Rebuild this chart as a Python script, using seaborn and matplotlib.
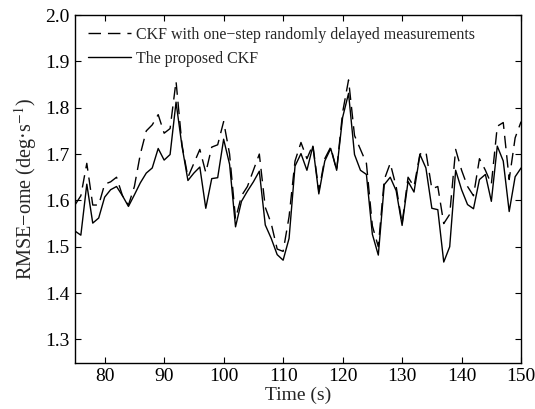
import numpy as np
import pandas as pd
import matplotlib
matplotlib.use("Agg")
import matplotlib.pyplot as plt
import seaborn as sns

time_s = [75, 76, 77, 78, 79, 80, 81, 82, 83, 84, 85, 86, 87, 88, 89, 90, 91, 92, 93, 94,
          95, 96, 97, 98, 99, 100, 101, 102, 103, 104, 105, 106, 107, 108, 109, 110, 111, 112,
          113, 114, 115, 116, 117, 118, 119, 120, 121, 122, 123, 124, 125, 126, 127, 128, 129,
          130, 131, 132, 133, 134, 135, 136, 137, 138, 139, 140, 141, 142, 143, 144, 145, 146,
          147, 148, 149, 150]

proposed_ckf = [1.534, 1.525, 1.635, 1.551, 1.562, 1.607, 1.623, 1.630, 1.610, 1.587,
                1.612, 1.638, 1.659, 1.670, 1.712, 1.687, 1.699, 1.812, 1.717, 1.643,
                1.659, 1.672, 1.583, 1.647, 1.649, 1.732, 1.678, 1.543, 1.598, 1.620,
                1.640, 1.663, 1.547, 1.518, 1.483, 1.471, 1.518, 1.674, 1.701, 1.665,
                1.717, 1.614, 1.685, 1.712, 1.665, 1.779, 1.831, 1.699, 1.665, 1.656,
                1.527, 1.482, 1.634, 1.650, 1.621, 1.546, 1.641, 1.618, 1.699, 1.670,
                1.583, 1.580, 1.467, 1.500, 1.665, 1.623, 1.591, 1.582, 1.645, 1.656,
                1.598, 1.717, 1.685, 1.576, 1.651, 1.670]

delayed_ckf = [1.590, 1.610, 1.680, 1.590, 1.590, 1.635, 1.640, 1.650, 1.610, 1.590,
               1.630, 1.700, 1.750, 1.763, 1.785, 1.745, 1.755, 1.857, 1.720, 1.650,
               1.680, 1.710, 1.660, 1.715, 1.720, 1.770, 1.700, 1.560, 1.610, 1.630,
               1.665, 1.700, 1.585, 1.550, 1.495, 1.490, 1.565, 1.685, 1.725, 1.690,
               1.720, 1.620, 1.690, 1.715, 1.665, 1.790, 1.860, 1.740, 1.710, 1.680,
               1.545, 1.500, 1.645, 1.680, 1.630, 1.550, 1.650, 1.630, 1.700, 1.705,
               1.625, 1.630, 1.550, 1.570, 1.710, 1.665, 1.630, 1.610, 1.690, 1.665,
               1.635, 1.760, 1.768, 1.645, 1.735, 1.770]

series_names = ["CKF with one\u2212step randomly delayed measurements", "The proposed CKF"]
x_ticks = [80, 90, 100, 110, 120, 130, 140, 150]
y_ticks = [1.3, 1.4, 1.5, 1.6, 1.7, 1.8, 1.9, 2.0]

sns.set_theme(style="ticks")
plt.rcParams["font.family"] = ["Liberation Serif", "DejaVu Serif"]
plt.rcParams["mathtext.fontset"] = "stix"
plt.rcParams["xtick.direction"] = "in"
plt.rcParams["ytick.direction"] = "in"

df = pd.DataFrame({"t": time_s, "delayed": delayed_ckf, "proposed": proposed_ckf})

fig = plt.figure(figsize=(5.35, 4.09), dpi=100)
ax = fig.add_axes([0.140, 0.1134, 0.834, 0.8499])

sns.lineplot(data=df, x="t", y="delayed", ax=ax, color="black", linewidth=1.0,
             label=series_names[0])
sns.lineplot(data=df, x="t", y="proposed", ax=ax, color="black", linewidth=1.0,
             label=series_names[1])
ax.lines[0].set_dashes([9, 5])

ax.set_xlim(75, 150)
ax.set_ylim(1.25, 2.0)
ax.set_xticks(x_ticks)
ax.set_yticks(y_ticks)
ax.set_yticklabels([f"{v:.1f}" for v in y_ticks])
ax.tick_params(axis="both", which="both", direction="in", top=True, right=True,
               length=4, width=0.8, labelsize=14, colors="black", pad=4)
for s in ax.spines.values():
    s.set_visible(True)
    s.set_color("black")
    s.set_linewidth(1.0)

ax.set_xlabel("Time (s)", fontsize=14, labelpad=1)
ax.set_ylabel("RMSE\u2212ome (deg\u00b7s$^{-1}$)", fontsize=14.5, labelpad=4)

leg = ax.legend(loc="upper left", frameon=False, fontsize=11.5, handlelength=2.7,
                handletextpad=0.3, borderaxespad=0.0, labelspacing=0.5,
                bbox_to_anchor=(0.015, 0.985))
for h in leg.get_lines():
    h.set_linewidth(1.0)
leg.get_lines()[0].set_dashes([9, 5])

fig.savefig("out.png", dpi=100, facecolor="white")
